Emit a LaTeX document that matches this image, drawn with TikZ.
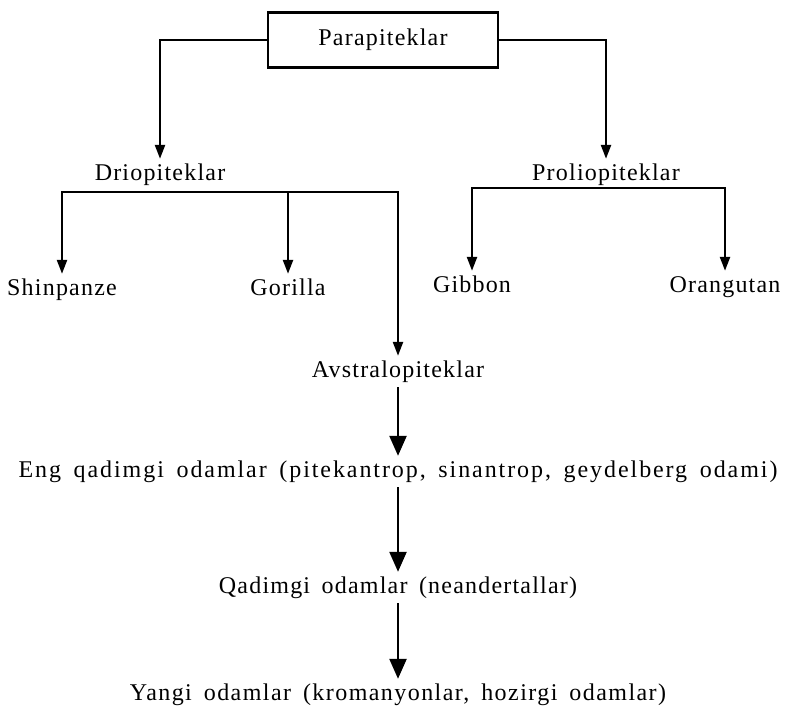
\documentclass[tikz,border=0pt]{standalone}
\usepackage{fontspec}
\setmainfont{Liberation Serif}[LetterSpace=5,WordSpace=1.6]
\usetikzlibrary{arrows.meta}

\begin{document}
\begin{tikzpicture}[x=0.5pt, y=-0.5pt, font=\fontsize{12}{14}\selectfont, line width=1.2pt,
    taxon/.style={anchor=base, inner xsep=0pt, inner ysep=2pt, text height=8pt, text depth=2.5pt},
    rootbox/.style={draw, line width=1.2pt, minimum width=115pt, minimum height=27.5pt},
    smallarr/.style={-{Triangle[length=7pt, width=5pt]}},
    bigarr/.style={-{Triangle[length=10pt, width=8.5pt]}}]

    \useasboundingbox (0,0) rectangle (785,707);

    % ===== ROOT =====
    \node[rootbox] (para) at (383,40) {Parapiteklar};

    % 1. First split
    \node[taxon] (drio) at (160,180) {Driopiteklar};
    \node[taxon] (prolio) at (606,180) {Proliopiteklar};
    \draw[smallarr] (para.west) -| (drio.north);
    \draw[smallarr] (para.east) -| (prolio.north);

    % 2. Apes
    \node[taxon] (shin) at (62,295) {Shinpanze};
    \node[taxon] (gor) at (288,295) {Gorilla};
    \node[taxon] (gib) at (472,292) {Gibbon};
    \node[taxon] (orang) at (725,292) {Orangutan};
    \node[taxon] (avs) at (398,377) {Avstralopiteklar};

    \coordinate (drioJ) at (160,192);
    \coordinate (prolJ) at (606,188);
    \draw[smallarr] (drioJ) -| (shin.north);
    \draw[smallarr] (drioJ) -| (gor.north);
    \draw[smallarr] (drioJ) -| (avs.north);
    \draw[smallarr] (prolJ) -| (gib.north);
    \draw[smallarr] (prolJ) -| (orang.north);

    % 3. Human line
    \node[taxon] (eng) at (398,477) {\addfontfeature{LetterSpace=8}Eng qadimgi odamlar (pitekantrop, sinantrop, geydelberg odami)};
    \node[taxon] (qad) at (398,593) {Qadimgi odamlar (neandertallar)};
    \node[taxon] (yangi) at (398,700) {\addfontfeature{LetterSpace=6}Yangi odamlar (kromanyonlar, hozirgi odamlar)};
    \draw[bigarr] (avs.south) -- (eng.north);
    \draw[bigarr] (eng.south) -- (qad.north);
    \draw[bigarr] (qad.south) -- (yangi.north);

\end{tikzpicture}
\end{document}
